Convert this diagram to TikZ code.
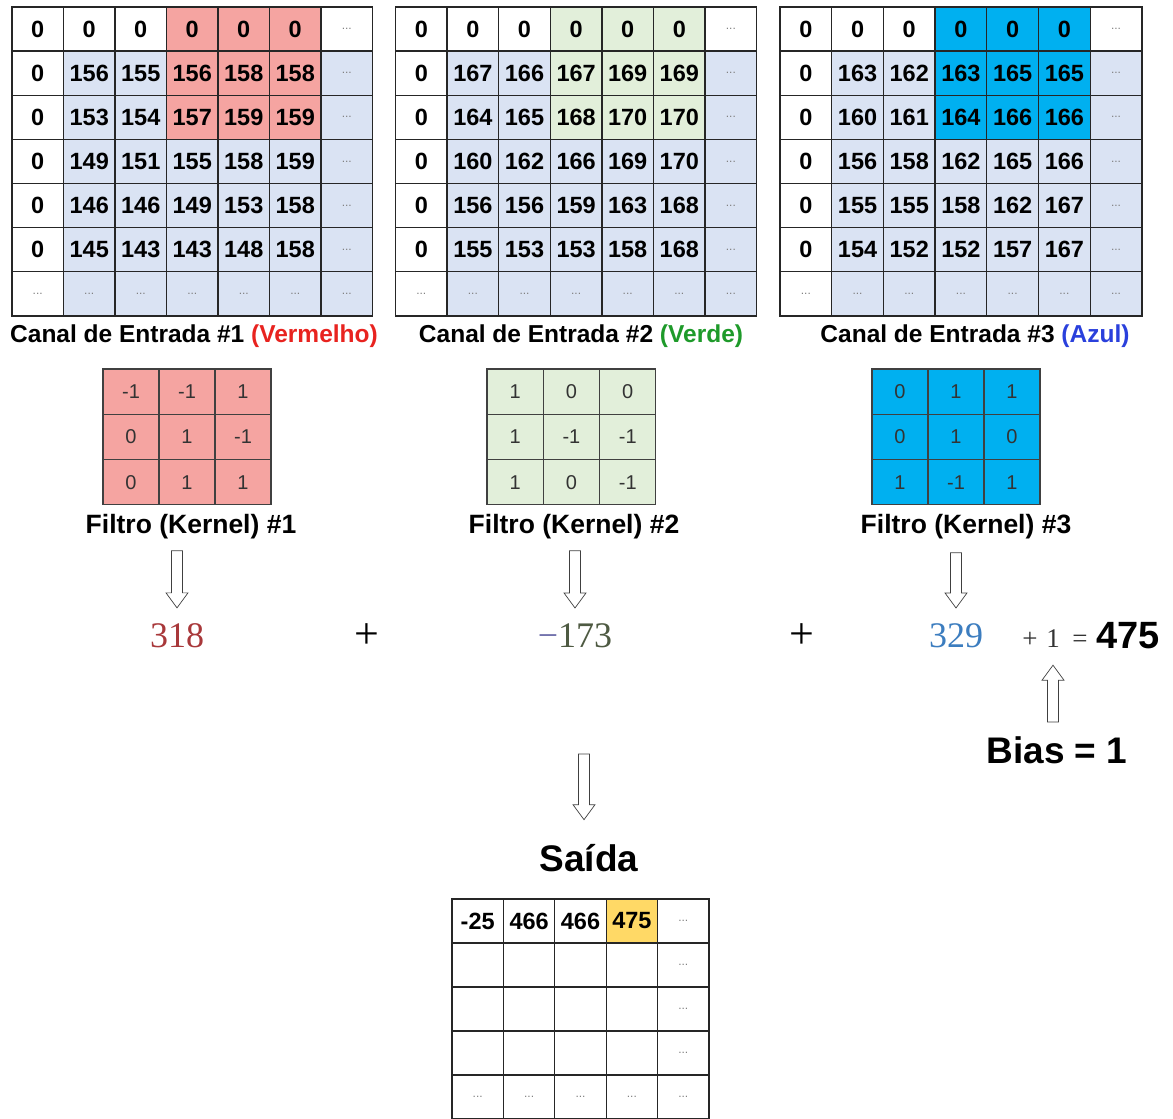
\documentclass[tikz,border=0pt]{standalone}
\usepackage{fontspec}
\setsansfont{Liberation Sans}
\newfontfamily\sumfont{Liberation Serif}
\usepackage{tikz}
\usetikzlibrary{calc}
\definecolor{cellblue}{HTML}{DAE3F3}
\definecolor{redhl}{HTML}{F5A4A1}
\definecolor{greenhl}{HTML}{E2EFDA}
\definecolor{bluehl}{HTML}{00B0F0}
\definecolor{yellowhl}{HTML}{FFD966}
\definecolor{vermelho}{HTML}{E8231F}
\definecolor{verde}{HTML}{1E9A2A}
\definecolor{azul}{HTML}{2A40DC}
\definecolor{sumred}{HTML}{A8383A}
\definecolor{sumgreen}{HTML}{4E5A42}
\definecolor{minusc}{HTML}{6A6AA8}
\definecolor{sumblue}{HTML}{3C7DBF}
\newcommand{\fsz}[1]{\fontsize{#1}{#1}\selectfont}

\begin{document}
\begin{tikzpicture}[x=1pt, y=-1pt,
  gridline/.style={line width=1.3pt, black!85, line cap=rect},
  kline/.style={line width=1.1pt, black!75, line cap=rect},
  num/.style={font=\sffamily\bfseries\fsz{23.5}, inner sep=0pt},
  dots/.style={font=\sffamily\fsz{12}, text=black!50, inner sep=0pt},
  knum/.style={font=\sffamily\fsz{20}, text=black!80, inner sep=0pt},
  title/.style={font=\sffamily\bfseries\fsz{24.5}, inner sep=0pt, anchor=base},
  ktitle/.style={font=\sffamily\bfseries\fsz{26.5}, inner sep=0pt, anchor=base},
  big/.style={font=\sumfont\fsz{36}, inner sep=0pt, anchor=base},
  plus/.style={font=\sumfont\fsz{44}, inner sep=0pt, anchor=base},
  small/.style={font=\sumfont\fsz{27}, text=black!80, inner sep=0pt, anchor=base},
  bold/.style={font=\sffamily\bfseries\fsz{#1}, inner sep=0pt, anchor=base},
  hollow/.style 2 args={draw=black!75, line width=0.7pt, to path={
    let \p1=($(\tikztostart)!#1!(\tikztotarget)$),
        \p2=($(\tikztotarget)!#2!(\tikztostart)$),
        \p3=($(\p2)!15pt!(\p1)$) in
    (\x1-5.5pt,\y1) -- (\x1-5.5pt,\y3) -- (\x1-11pt,\y3) -- (\p2)
    -- (\x1+11pt,\y3) -- (\x1+5.5pt,\y3) -- (\x1+5.5pt,\y1) -- cycle}},
]
\useasboundingbox (0,0) rectangle (1173,1119);

% canal 1
\begin{scope}[shift={(12,7)}, x=51.5pt, y=-44.14pt]
  \fill[cellblue] (1,1) rectangle (7,7);
  \fill[redhl] (3,0) rectangle (6,3);
  \foreach \i in {0,...,7} {
    \draw[gridline] (\i,0) -- (\i,7);
    \draw[gridline] (0,\i) -- (7,\i);
  }
  \foreach \c in {0,...,5} \node[num] (a-0-\c) at (\c+.5,.5) {0};
  \foreach \r/\vals in {1/{156,155,156,158,158}, 2/{153,154,157,159,159},
      3/{149,151,155,158,159}, 4/{146,146,149,153,158}, 5/{145,143,143,148,158}} {
    \node[num] (a-\r-0) at (.5,\r+.5) {0};
    \foreach \v [count=\c] in \vals \node[num] (a-\r-\c) at (\c+.5,\r+.5) {\v};
  }
  \foreach \r in {0,...,5} \node[dots] (a-\r-6) at (6.5,\r+.5) {...};
  \foreach \c in {0,...,6} \node[dots] (a-6-\c) at (\c+.5,6.5) {...};
\end{scope}

% canal 2
\begin{scope}[shift={(395.5,7)}, x=51.6pt, y=-44.14pt]
  \fill[cellblue] (1,1) rectangle (7,7);
  \fill[greenhl] (3,0) rectangle (6,3);
  \foreach \i in {0,...,7} {
    \draw[gridline] (\i,0) -- (\i,7);
    \draw[gridline] (0,\i) -- (7,\i);
  }
  \foreach \c in {0,...,5} \node[num] (b-0-\c) at (\c+.5,.5) {0};
  \foreach \r/\vals in {1/{167,166,167,169,169}, 2/{164,165,168,170,170},
      3/{160,162,166,169,170}, 4/{156,156,159,163,168}, 5/{155,153,153,158,168}} {
    \node[num] (b-\r-0) at (.5,\r+.5) {0};
    \foreach \v [count=\c] in \vals \node[num] (b-\r-\c) at (\c+.5,\r+.5) {\v};
  }
  \foreach \r in {0,...,5} \node[dots] (b-\r-6) at (6.5,\r+.5) {...};
  \foreach \c in {0,...,6} \node[dots] (b-6-\c) at (\c+.5,6.5) {...};
\end{scope}

% canal 3
\begin{scope}[shift={(780,7)}, x=51.7pt, y=-44.14pt]
  \fill[cellblue] (1,1) rectangle (7,7);
  \fill[bluehl] (3,0) rectangle (6,3);
  \foreach \i in {0,...,7} {
    \draw[gridline] (\i,0) -- (\i,7);
    \draw[gridline] (0,\i) -- (7,\i);
  }
  \foreach \c in {0,...,5} \node[num] (c-0-\c) at (\c+.5,.5) {0};
  \foreach \r/\vals in {1/{163,162,163,165,165}, 2/{160,161,164,166,166},
      3/{156,158,162,165,166}, 4/{155,155,158,162,167}, 5/{154,152,152,157,167}} {
    \node[num] (c-\r-0) at (.5,\r+.5) {0};
    \foreach \v [count=\c] in \vals \node[num] (c-\r-\c) at (\c+.5,\r+.5) {\v};
  }
  \foreach \r in {0,...,5} \node[dots] (c-\r-6) at (6.5,\r+.5) {...};
  \foreach \c in {0,...,6} \node[dots] (c-6-\c) at (\c+.5,6.5) {...};
\end{scope}

\node[title] (lab1) at (194,342) {Canal de Entrada \#1 \textcolor{vermelho}{(Vermelho)}};
\node[title] (lab2) at (581,342) {Canal de Entrada \#2 \textcolor{verde}{(Verde)}};
\node[title] (lab3) at (975,342) {Canal de Entrada \#3 \textcolor{azul}{(Azul)}};

% filtros
\begin{scope}[shift={(103,369)}, x=56pt, y=-45.3pt]
  \fill[redhl] (0,0) rectangle (3,3);
  \foreach \i in {0,...,3} {\draw[kline] (\i,0) -- (\i,3); \draw[kline] (0,\i) -- (3,\i);}
  \foreach \r/\vals in {0/{-1,-1,1}, 1/{0,1,-1}, 2/{0,1,1}}
    \foreach \v [count=\c from 0] in \vals \node[knum] (k1-\r-\c) at (\c+.5,\r+.5) {\v};
\end{scope}
\begin{scope}[shift={(487,369)}, x=56.3pt, y=-45.3pt]
  \fill[greenhl] (0,0) rectangle (3,3);
  \foreach \i in {0,...,3} {\draw[kline] (\i,0) -- (\i,3); \draw[kline] (0,\i) -- (3,\i);}
  \foreach \r/\vals in {0/{1,0,0}, 1/{1,-1,-1}, 2/{1,0,-1}}
    \foreach \v [count=\c from 0] in \vals \node[knum] (k2-\r-\c) at (\c+.5,\r+.5) {\v};
\end{scope}
\begin{scope}[shift={(872,369)}, x=56pt, y=-45.3pt]
  \fill[bluehl] (0,0) rectangle (3,3);
  \foreach \i in {0,...,3} {\draw[kline] (\i,0) -- (\i,3); \draw[kline] (0,\i) -- (3,\i);}
  \foreach \r/\vals in {0/{0,1,1}, 1/{0,1,0}, 2/{1,-1,1}}
    \foreach \v [count=\c from 0] in \vals \node[knum] (k3-\r-\c) at (\c+.5,\r+.5) {\v};
\end{scope}

\node[ktitle] (klab1) at (191,533) {Filtro (Kernel) \#1};
\node[ktitle] (klab2) at (574,533) {Filtro (Kernel) \#2};
\node[ktitle] (klab3) at (966,533) {Filtro (Kernel) \#3};

% soma
\node[big, text=sumred] (n1) at (177,647) {318};
\node[plus] (plus1) at (367,648) {+};
\node[big] (n2) at (575,647) {\textcolor{minusc}{−}\textcolor{sumgreen}{173}};
\node[plus] (plus2) at (802,648) {+};
\node[big, text=sumblue] (n3) at (956,647) {329};
\node[small] (bplus) at (1030,647) {+};
\node[small] (bone) at (1053,647) {1};
\node[small] (beq) at (1080,647) {=};
\node[bold=38, anchor=base west] (res) at (1096,648) {475};
\node[bold=37] (bias) at (1057,763) {Bias = 1};

\draw[hollow={12pt}{15pt}] (n1 |- klab1.south) to (n1.north);
\draw[hollow={12pt}{15pt}] (n2 |- klab2.south) to (n2.north);
\draw[hollow={14pt}{15pt}] (n3 |- klab3.south) to (n3.north);
\draw[hollow={14pt}{18pt}] (bone |- bias.north) to (bone.south);

% saida
\node[bold=37] (saida) at (589,871) {Saída};
\coordinate (sumout) at (584,742);
\draw[hollow={12pt}{24pt}] (sumout) to (sumout |- saida.north);

\begin{scope}[shift={(452,899)}, x=51.4pt, y=-44pt]
  \fill[yellowhl] (3,0) rectangle (4,1);
  \foreach \i in {0,...,5} {
    \draw[gridline] (\i,0) -- (\i,5);
    \draw[gridline] (0,\i) -- (5,\i);
  }
  \foreach \v [count=\c from 0] in {-25,466,466,475} \node[num] (o-0-\c) at (\c+.5,.5) {\v};
  \foreach \r in {0,...,3} \node[dots] (o-\r-4) at (4.5,\r+.5) {...};
  \foreach \c in {0,...,4} \node[dots] (o-4-\c) at (\c+.5,4.5) {...};
\end{scope}
\end{tikzpicture}
\end{document}
